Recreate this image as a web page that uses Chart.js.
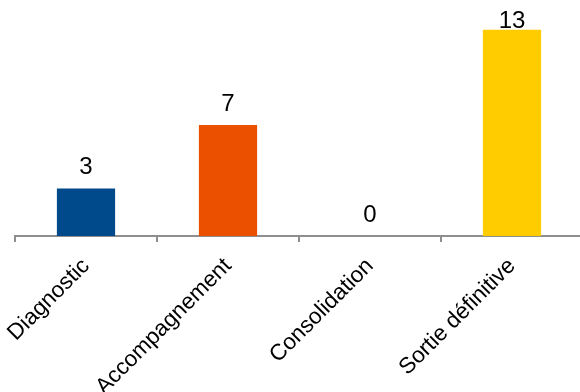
<!DOCTYPE html>
<html>
<head>
<meta charset="utf-8">
<script src="https://cdn.jsdelivr.net/npm/chart.js@4/dist/chart.umd.min.js"></script>
<style>
  html, body { margin: 0; padding: 0; background: #fff; overflow: hidden; }
  #wrap { width: 584px; height: 392px; }
</style>
</head>
<body>
<div id="wrap"><canvas id="chart" width="584" height="392"></canvas></div>
<script>
// données du graphique
const categories = ['Diagnostic', 'Accompagnement', 'Consolidation', 'Sortie définitive'];
const values = [3, 7, 0, 13];
const barColors = ['#004a8c', '#ea5000', '#e94e0f', '#ffcc00'];

// étiquettes de valeur au-dessus des barres
const valueLabels = {
    id: 'valueLabels',
    afterDatasetsDraw(chart) {
        const ctx = chart.ctx;
        const meta = chart.getDatasetMeta(0);
        ctx.save();
        ctx.font = '24px "Liberation Sans", Arial, sans-serif';
        ctx.fillStyle = '#000';
        ctx.textAlign = 'center';
        ctx.textBaseline = 'alphabetic';
        meta.data.forEach(function(bar, i) {
            let y = bar.y - 14;
            if (y < 28) y = 28;   // reste dans le cadre
            ctx.fillText(String(values[i]), bar.x, y);
        });
        ctx.restore();
    }
};

new Chart(document.getElementById('chart'), {
    type: 'bar',
    data: {
        labels: categories,
        datasets: [{
            data: values,
            backgroundColor: barColors,
            borderWidth: 0,
            barPercentage: 0.41,
            categoryPercentage: 1
        }]
    },
    options: {
        responsive: false,
        animation: false,
        layout: { padding: { left: 15, right: 1, top: 14, bottom: 0 } },
        plugins: {
            legend: { display: false },
            tooltip: { enabled: false }
        },
        scales: {
            x: {
                grid: {
                    drawOnChartArea: false,
                    drawTicks: true,
                    tickLength: 6,
                    color: '#8e8e8e',
                    lineWidth: 2
                },
                border: { display: true, color: '#8e8e8e', width: 2 },
                ticks: {
                    minRotation: 45,
                    maxRotation: 45,
                    padding: 11,
                    color: '#000',
                    font: { family: '"Liberation Sans", Arial, sans-serif', size: 22.5 }
                },
                afterFit: function(s) {
                    s.height = 156;
                    s.paddingLeft = 0;
                    s.paddingRight = 0;
                }
            },
            y: {
                display: false,
                min: 0,
                max: 14
            }
        }
    },
    plugins: [valueLabels]
});
</script>
</body>
</html>
